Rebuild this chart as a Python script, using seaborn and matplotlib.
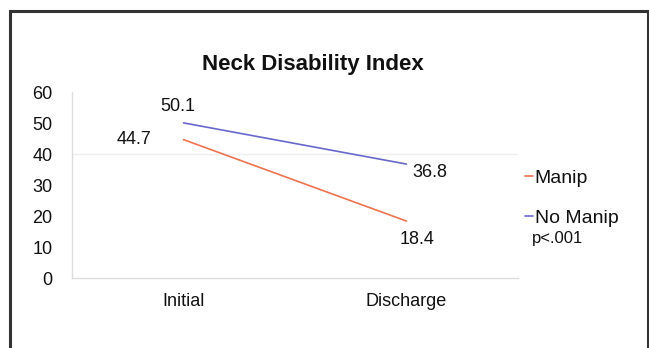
# 목 장애 지수 (Neck Disability Index): 도수치료 유무에 따른 초기/퇴원 비교

import matplotlib
matplotlib.use("Agg")
import matplotlib.pyplot as plt
from matplotlib.patches import Rectangle
import pandas as pd
import seaborn as sns

STAGES = ["Initial", "Discharge"]
GROUPS = ["Manip", "No Manip"]
MANIP = [44.7, 18.4]
NO_MANIP = [50.1, 36.8]
COLORS = {"Manip": "#EE7350", "No Manip": "#6868CC"}
YTICKS = [0, 10, 20, 30, 40, 50, 60]

sns.set_theme(style="white")
plt.rcParams["font.family"] = ["Liberation Sans", "DejaVu Sans"]
plt.rcParams["text.color"] = "#111111"
plt.rcParams["xtick.color"] = "#111111"
plt.rcParams["ytick.color"] = "#111111"

df = pd.DataFrame({
    "stage": STAGES * 2,
    "group": [GROUPS[0]] * 2 + [GROUPS[1]] * 2,
    "value": MANIP + NO_MANIP,
})

fig = plt.figure(figsize=(6.49, 3.48), dpi=100)
ax = fig.add_axes([0.111, 0.201, 0.687, 0.534])

sns.lineplot(data=df, x="stage", y="value", hue="group", palette=COLORS,
             linewidth=1.2, ax=ax, legend=True, sort=False)

ax.set_xlim(-0.5, 1.5)
ax.set_ylim(0, 60)
ax.set_yticks(YTICKS)
ax.set_xlabel("")
ax.set_ylabel("")
ax.axhline(40, color="#efefef", linewidth=1, zorder=0)

# 축 스타일 (엑셀 느낌: 옅은 축선)
for s in ["top", "right"]:
    ax.spines[s].set_visible(False)
for s in ["left", "bottom"]:
    ax.spines[s].set_color("#dddddd")
    ax.spines[s].set_linewidth(1)
ax.tick_params(axis="y", length=0, pad=14, labelsize=13)
ax.tick_params(axis="x", length=0, pad=11, labelsize=13)
ax.set_xticks([0.5], minor=True)
ax.tick_params(axis="x", which="minor", length=4, color="#dddddd", width=1)

# 값 라벨
ax.annotate(f"{NO_MANIP[0]}", (0, NO_MANIP[0]), xytext=(-4, 6),
            textcoords="offset points", ha="center", va="bottom", fontsize=13)
ax.annotate(f"{MANIP[0]}", (0, MANIP[0]), xytext=(-36, 0),
            textcoords="offset points", ha="center", va="center", fontsize=13)
ax.annotate(f"{NO_MANIP[1]}", (1, NO_MANIP[1]), xytext=(17, -6),
            textcoords="offset points", ha="center", va="center", fontsize=13)
ax.annotate(f"{MANIP[1]}", (1, MANIP[1]), xytext=(8, -13),
            textcoords="offset points", ha="center", va="center", fontsize=13)

fig.text(0.482, 0.815, "Neck Disability Index", ha="center", va="center",
         fontsize=16, fontweight="bold")

leg = ax.legend(loc="upper left", bbox_to_anchor=(0.797, 0.535),
                bbox_transform=fig.transFigure, frameon=False, fontsize=14,
                handlelength=0.4, handletextpad=0.1, labelspacing=1.15,
                borderaxespad=0)
for line in leg.get_lines():
    line.set_linewidth(1.2)
fig.text(0.82, 0.315, "p<.001", ha="left", va="center", fontsize=12)

# 바깥 테두리
fig.patches.append(Rectangle((10 / 649, -0.2), 638 / 649, 1.2 - 11 / 348,
                             transform=fig.transFigure, fill=False,
                             edgecolor="#333333", linewidth=2.2, zorder=10))

fig.savefig("out.png", dpi=100)
